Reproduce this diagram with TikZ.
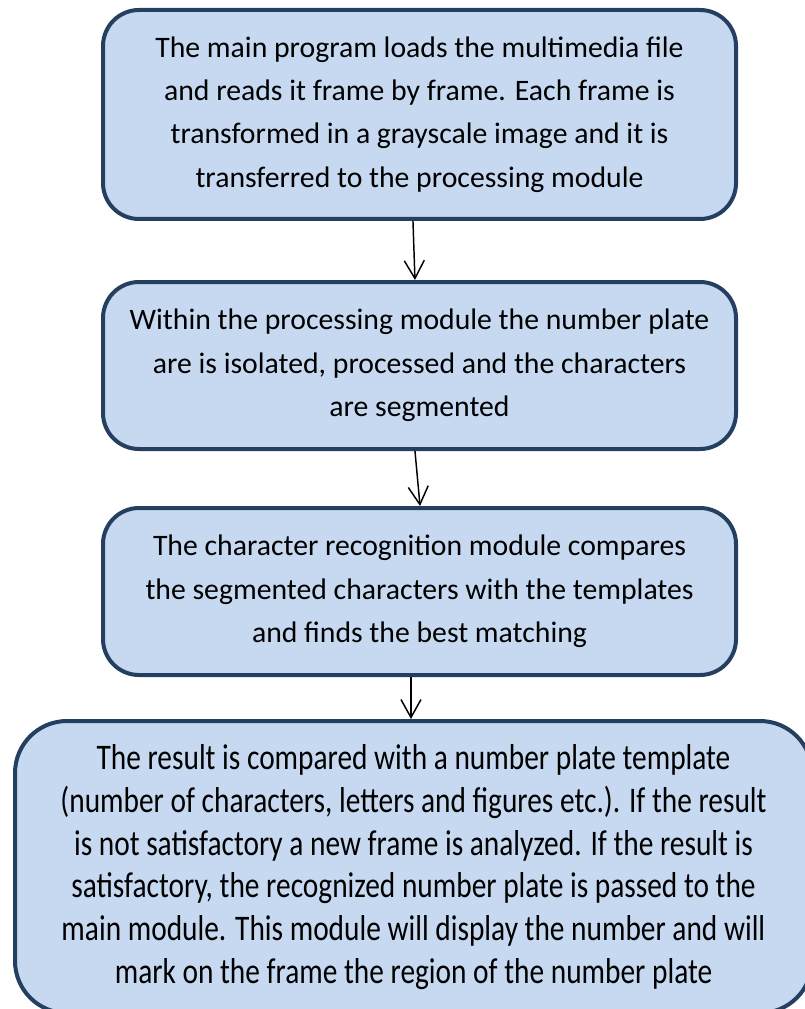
\documentclass[tikz,border=0pt]{standalone}
\usepackage{fontspec}
\setmainfont{Carlito}
\newfontfamily\narrowfont[FakeStretch=0.816]{Carlito}
\usetikzlibrary{arrows.meta}
\definecolor{boxfill}{RGB}{198,217,241}
\definecolor{boxline}{RGB}{36,63,96}

\begin{document}
\begin{tikzpicture}[x=0.75pt,y=-0.75pt]
	\tikzset{>={Straight Barb[length=13.5pt,width=15pt]}}
	\tikzset{box/.style={draw=boxline,fill=boxfill,line width=3pt,rounded corners=27pt,
		align=center,font=\fontsize{22.3}{32.6}\selectfont}}
	\tikzset{link/.style={->,line width=1.1pt}}

	\useasboundingbox (0,0) rectangle (805,1009);

	\node[box,minimum width=474.75pt,minimum height=156.75pt] (load) at (419.5,114.5)
		{The main program loads the multimedia file\\
		 and reads it frame by frame. Each frame is\\
		 transformed in a grayscale image and it is\\
		 transferred to the processing module};
	\node[box,minimum width=474.75pt,minimum height=125.25pt] (proc) at (419.5,365.5)
		{Within the processing module the number plate\\
		 are is isolated, processed and the characters\\
		 are segmented};
	\node[box,minimum width=474.75pt,minimum height=125.25pt] (recog) at (419.5,591.5)
		{The character recognition module compares\\
		 the segmented characters with the templates\\
		 and finds the best matching};
	\node[box,rounded corners=39pt,minimum width=597.75pt,minimum height=219pt,
		font=\narrowfont\fontsize{27}{32}\selectfont] (check) at (413.5,867)
		{The result is compared with a number plate template\\
		 (number of characters, letters and figures etc.). If the result\\
		 is not satisfactory a new frame is analyzed. If the result is\\
		 satisfactory, the recognized number plate is passed to the\\
		 main module. This module will display the number and will\\
		 mark on the frame the region of the number plate};

	\draw[link] ([xshift=-4.9pt]load.south) -- ([xshift=-3.4pt]proc.north);
	\draw[link] ([xshift=-3.4pt]proc.south) -- ([xshift=0.4pt]recog.north);
	\draw[link] ([xshift=-6.4pt]recog.south) -- ([xshift=-1.9pt]check.north);

\end{tikzpicture}
\end{document}
